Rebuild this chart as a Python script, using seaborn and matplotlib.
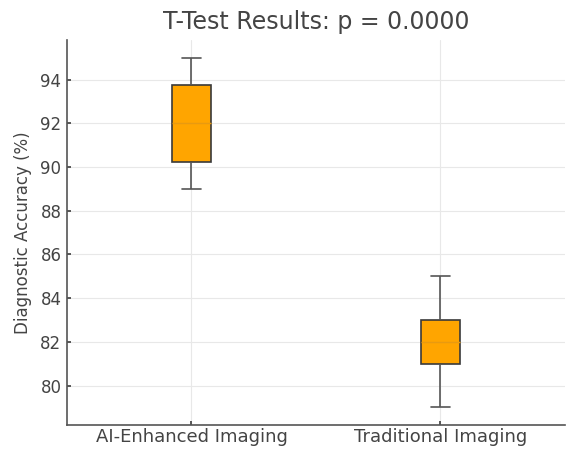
import matplotlib
matplotlib.use("Agg")
import matplotlib.pyplot as plt
import seaborn as sns
import pandas as pd

groups = ["AI-Enhanced Imaging", "Traditional Imaging"]
ai_values = [89.0, 90.25, 92.0, 93.75, 95.0]
trad_values = [79.0, 81.0, 82.0, 83.0, 85.0]
yticks = [80, 82, 84, 86, 88, 90, 92, 94]

df = pd.DataFrame({
    "group": [groups[0]] * len(ai_values) + [groups[1]] * len(trad_values),
    "acc": ai_values + trad_values,
})

sns.set_theme(style="whitegrid")
plt.rcParams['font.family'] = ['DejaVu Sans']

fig = plt.figure(figsize=(5.75, 4.5), dpi=100)
ax = fig.add_axes([0.1165, 0.0556, 0.866, 0.855])

sns.boxplot(data=df, x="group", y="acc", order=groups, width=0.155, ax=ax,
            color="#FFA500", saturation=1, linewidth=1.2,
            boxprops=dict(facecolor="#FFA500", edgecolor="#3a3a3a"),
            whiskerprops=dict(color="#555555"),
            capprops=dict(color="#555555"),
            medianprops=dict(color="#E89A10", linewidth=1.0),
            showfliers=False)

ax.set_xlim(-0.5, 1.5)
ax.set_ylim(78.2, 95.8)
ax.set_yticks(yticks)
ax.set_xlabel("")
ax.set_ylabel("Diagnostic Accuracy (%)", fontsize=12, color="#444444", labelpad=6)
ax.set_title("T-Test Results: p = 0.0000", fontsize=17, color="#444444", pad=8)
ax.grid(True, color="#e8e8e8", linewidth=0.8)
for s in ["top", "right"]:
    ax.spines[s].set_visible(False)
for s in ["left", "bottom"]:
    ax.spines[s].set_color("#555555")
    ax.spines[s].set_linewidth(1.2)
ax.tick_params(axis="both", labelsize=12, colors="#444444", length=3, direction="in",
               left=True, bottom=True, pad=4)
ax.tick_params(axis="x", labelsize=13, pad=2)

fig.savefig("out.png", dpi=100)
